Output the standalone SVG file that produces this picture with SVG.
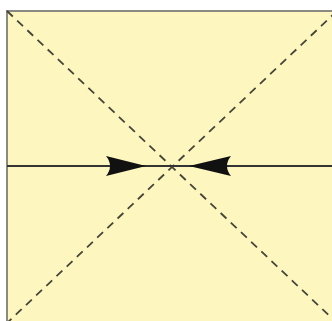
<svg xmlns="http://www.w3.org/2000/svg" width="332" height="321" viewBox="0 0 332 321">
<style>
.box{fill:#fdf6bf;stroke:#8a8a80;stroke-width:2}
.diag{stroke:#444438;stroke-width:1.8;stroke-dasharray:8,6;fill:none}
.line{stroke:#333;stroke-width:2;fill:none}
.head{fill:#111;stroke:none}
</style>
<rect width="332" height="321" fill="#ffffff"/>
<g id="frame"><rect class="box" x="7" y="11" width="332" height="314"/></g>
<g id="connectors">
<line class="diag" x1="7" y1="11" x2="337" y2="323"/>
<line class="diag" x1="337" y1="11" x2="7" y2="323"/>
<line class="line" x1="7" y1="166" x2="332" y2="166"/>
<path class="head" d="M146,166 L106,156 Q114,166 106,176 Z"/>
<path class="head" d="M189,166 L231,156 Q223,166 231,176 Z"/>
</g>
</svg>
